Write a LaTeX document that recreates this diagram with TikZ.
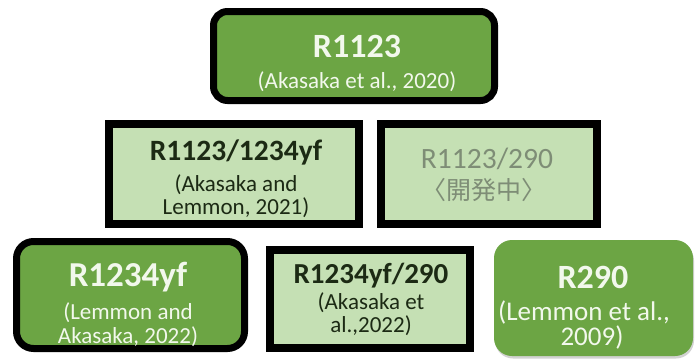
\documentclass[tikz,border=0pt]{standalone}
\usepackage{fontspec}
\setmainfont{Carlito}
\newfontfamily\cjk{Noto Sans CJK JP}
\usetikzlibrary{shadows}
\definecolor{darkgreen}{HTML}{6CA544}
\definecolor{lightgreen}{HTML}{C5E0B4}
\definecolor{darktext}{HTML}{1C2A14}
\definecolor{greytext}{HTML}{7E8D76}
\definecolor{lighttext}{HTML}{F2F8EC}
\newcommand{\fsz}[1]{\fontsize{#1}{#1}\selectfont}
\tikzset{
  px/.style={x=1pt,y=-1pt},
  boxbase/.style={draw=black, drop shadow={shadow xshift=1pt, shadow yshift=-2.5pt, opacity=.35}},
  darkbox/.style={boxbase, fill=darkgreen, rounded corners=14pt, line width=7pt},
  lightbox/.style={boxbase, fill=lightgreen, line width=8pt},
  plainbox/.style={fill=darkgreen, rounded corners=18pt, drop shadow={shadow xshift=1pt, shadow yshift=-2.5pt, opacity=.35}},
  lbl/.style={inner sep=0pt, anchor=base},
}
\begin{document}
\begin{tikzpicture}[px]
\useasboundingbox (0,0) rectangle (698,359);
\fill[white] (0,0) rectangle (698,359);

% boxes
\node[darkbox, minimum width=281pt, minimum height=89pt] (top) at (354,56) {};
\node[lightbox, minimum width=250pt, minimum height=100pt] (ml) at (234,174) {};
\node[lightbox, minimum width=216pt, minimum height=100pt] (mr) at (489,174) {};
\node[darkbox, rounded corners=17pt, minimum width=228pt, minimum height=107pt] (bl) at (130.5,295) {};
\node[lightbox, minimum width=200pt, minimum height=98pt] (bm) at (370,299) {};
\node[plainbox, minimum width=199pt, minimum height=116pt] (br) at (593.5,298) {};

% labels
\node[lbl, text=lighttext, font=\bfseries\fsz{34}] (t1) at (357,57) {R1123};
\node[lbl, text=lighttext, font=\fsz{23}] (t2) at (357,88) {(Akasaka et al., 2020)};

\node[lbl, text=darktext, font=\bfseries\fsz{29.5}] (ml1) at (236,160) {R1123/1234yf};
\node[lbl, text=darktext, font=\fsz{23}] (ml2) at (236,191) {(Akasaka and};
\node[lbl, text=darktext, font=\fsz{23}] (ml3) at (236,214) {Lemmon, 2021)};

\node[lbl, text=greytext, font=\fsz{29.5}] (mr1) at (487,168) {R1123/290};
\node[lbl, text=greytext, font=\cjk\fsz{25}] (mr2) at (484,199) {〈開発中〉};

\node[lbl, text=lighttext, font=\bfseries\fsz{35}] (bl1) at (128,286) {R1234yf};
\node[lbl, text=lighttext, font=\fsz{23}] (bl2) at (128,319) {(Lemmon and};
\node[lbl, text=lighttext, font=\fsz{23}] (bl3) at (128,343) {Akasaka, 2022)};

\node[lbl, text=darktext, font=\bfseries\fsz{29}] (bm1) at (371,283) {R1234yf/290};
\node[lbl, text=darktext, font=\fsz{23}] (bm2) at (371,309) {(Akasaka et};
\node[lbl, text=darktext, font=\fsz{23}] (bm3) at (371,332) {al.,2022)};

\node[lbl, text=lighttext, font=\bfseries\fsz{34}] (br1) at (593,288) {R290};
\node[lbl, text=lighttext, font=\fsz{27}] (br2) at (584,320) {(Lemmon et al.,};
\node[lbl, text=lighttext, font=\fsz{27}] (br3) at (592,345) {2009)};
\end{tikzpicture}
\end{document}
